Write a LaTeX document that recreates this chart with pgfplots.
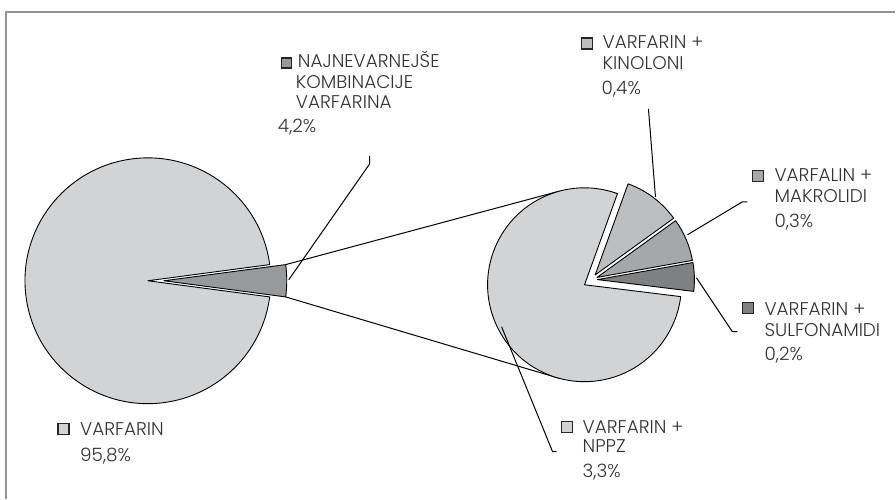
\documentclass[border=0pt]{standalone}
\usepackage{pgfplots}
\pgfplotsset{compat=1.18}
\usetikzlibrary{calc}
\usepackage{fontspec}
\setmainfont{Poppins}[UprightFont=* Light]
\definecolor{cA}{HTML}{D2D3D5}
\definecolor{cB}{HTML}{98999B}
\definecolor{cK}{HTML}{BDBEC0}
\definecolor{cM}{HTML}{A6A7A9}
\definecolor{cS}{HTML}{7F8082}
\definecolor{txt}{HTML}{333333}
% pie values (percent)
\def\vVarf{95.8}
\def\vNaj{4.2}
\def\vNPPZ{3.3}
\def\vKino{0.4}
\def\vMakro{0.3}
\def\vSulf{0.2}
\newcommand{\lf}{\fontsize{18.5}{21}\selectfont}
\newcommand{\pieslice}[8]{\filldraw[fill=#8,draw=black,line width=0.9bp,line join=round] (axis cs:#1,#2) ++(#3:#4bp) -- ++(#6:#5bp) arc[start angle=#6,end angle=#7,radius=#5bp] -- cycle;}
\begin{document}
\begin{tikzpicture}[lab/.style={anchor=base west, inner sep=0pt, text=txt}]
\pgfmathsetmacro{\hN}{\vNaj/(\vVarf+\vNaj)*180}
\pgfmathsetmacro{\tot}{\vNPPZ+\vKino+\vMakro+\vSulf}
\pgfmathsetmacro{\sA}{-7}
\pgfmathsetmacro{\sB}{\sA+\vSulf/\tot*360}
\pgfmathsetmacro{\sC}{\sB+\vMakro/\tot*360}
\pgfmathsetmacro{\sD}{\sC+\vKino/\tot*360}
\pgfmathsetmacro{\sE}{\sD+\vNPPZ/\tot*360}
\pgfmathsetmacro{\bS}{(\sA+\sB)/2}
\pgfmathsetmacro{\bM}{(\sB+\sC)/2}
\pgfmathsetmacro{\bK}{(\sC+\sD)/2}
\pgfmathsetmacro{\hNneg}{360-\hN}
\begin{axis}[x=1bp, y=1bp, y dir=reverse, xmin=0, xmax=896, ymin=0, ymax=499,
  hide axis, clip=false]
\path (axis cs:0,0) rectangle (axis cs:896,499);
% border
\draw[gray!85, line width=1.5bp] (axis cs:6,499) -- (axis cs:6,12) -- (axis cs:896,12);
% connectors
\draw[black, line width=1bp] ($(axis cs:164,281)+(\hN:123bp)$) -- ($(axis cs:585,285)+(105:97bp)$);
\draw[black, line width=1bp] ($(axis cs:164,281)+(-\hN:123bp)$) -- ($(axis cs:585,285)+(255:97bp)$);
% big pie
\pieslice{148}{281}{0}{0}{123}{\hN}{\hNneg}{cA}
\pieslice{148}{281}{0}{16}{123}{-\hN}{\hN}{cB}
% small pie
\pieslice{585}{285}{0}{0}{97}{\sD}{\sE}{cA}
\pieslice{592}{280}{\bS}{6}{97}{\sA}{\sB}{cS}
\pieslice{592}{280}{\bM}{6}{97}{\sB}{\sC}{cM}
\pieslice{592}{280}{\bK}{6}{97}{\sC}{\sD}{cK}
% leaders
\draw[black, line width=1bp] (axis cs:289,280) -- (axis cs:370,164) -- (axis cs:370,156);
\draw[black, line width=1bp] (axis cs:656,197) -- (axis cs:649,109);
\draw[black, line width=1bp] (axis cs:688,235) -- (axis cs:743,202) -- (axis cs:748,202);
\draw[black, line width=1bp] (axis cs:697,278) -- (axis cs:733,332) -- (axis cs:738,332);
\draw[black, line width=1bp] (axis cs:502,327) -- (axis cs:553,452) -- (axis cs:557,452);
% legend boxes
\filldraw[fill=cB, draw=black!85, line width=1.2bp] (axis cs:282,58) rectangle (axis cs:292,68);
\filldraw[fill=cK, draw=black!85, line width=1.2bp] (axis cs:582,38) rectangle (axis cs:593,49);
\filldraw[fill=cM, draw=black!85, line width=1.2bp] (axis cs:753,171) rectangle (axis cs:764,182);
\filldraw[fill=cS, draw=black!85, line width=1.2bp] (axis cs:743,303) rectangle (axis cs:754,314);
\filldraw[fill=cA, draw=black!85, line width=1.2bp] (axis cs:562,422) rectangle (axis cs:573,433);
\filldraw[fill=cA, draw=black!85, line width=1.2bp] (axis cs:58,424) rectangle (axis cs:69,435);
% labels
\node[lab] at (axis cs:298,68) {\lf NAJNEVARNEJŠE};
\node[lab] at (axis cs:296,89) {\lf KOMBINACIJE};
\node[lab] at (axis cs:296,109) {\lf VARFARINA};
\node[lab] at (axis cs:278,133) {\lf 4,2\%};
\node[lab] at (axis cs:603,49) {\lf VARFARIN +};
\node[lab] at (axis cs:603,70) {\lf KINOLONI};
\node[lab] at (axis cs:602,95) {\lf 0,4\%};
\node[lab] at (axis cs:775,182) {\lf VARFALIN +};
\node[lab] at (axis cs:775,203) {\lf MAKROLIDI};
\node[lab] at (axis cs:775,228) {\lf 0,3\%};
\node[lab] at (axis cs:765,316) {\lf VARFARIN +};
\node[lab] at (axis cs:765,337) {\lf SULFONAMIDI};
\node[lab] at (axis cs:765,361) {\lf 0,2\%};
\node[lab] at (axis cs:583,434) {\lf VARFARIN +};
\node[lab] at (axis cs:583,453) {\lf NPPZ};
\node[lab] at (axis cs:583,478) {\lf 3,3\%};
\node[lab] at (axis cs:80,436) {\lf VARFARIN};
\node[lab] at (axis cs:80,462) {\lf 95,8\%};
\end{axis}
\end{tikzpicture}
\end{document}
